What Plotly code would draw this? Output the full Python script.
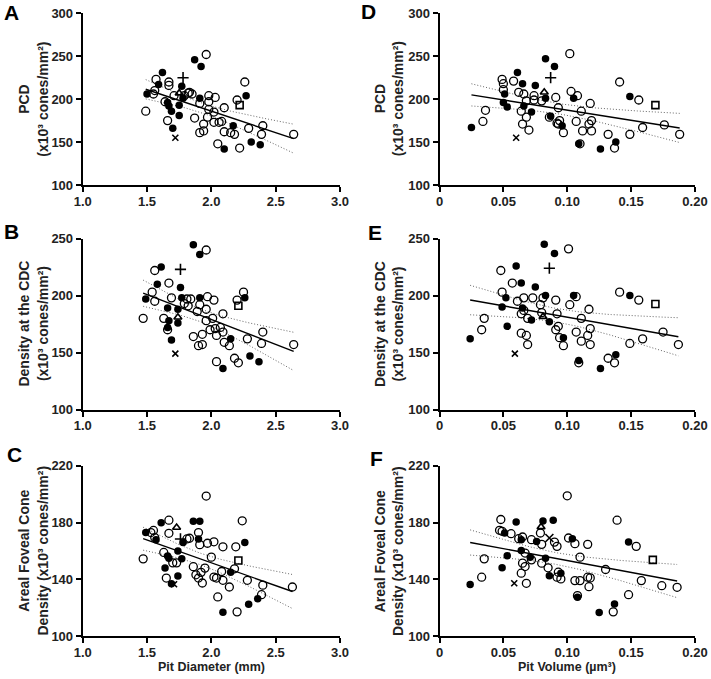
import numpy as np
import plotly.graph_objects as go

# ---------------- data ----------------
# Panel A: Pit diameter (mm) vs PCD
A_filled_x = [1.87, 1.92, 1.62, 1.59, 1.77, 1.50, 1.78, 1.91, 1.66, 1.67, 1.69, 1.75, 1.75, 2.27, 2.17, 1.70, 2.10, 2.31, 2.38]
A_filled_y = [246, 238, 231, 217, 215, 206, 201, 201, 196, 192, 186, 193, 181, 204, 169, 166, 142, 150, 147]
A_open_x = [1.96, 1.57, 1.67, 1.67, 2.26, 1.83, 1.56, 1.55, 1.71, 1.85, 1.98, 2.03, 1.98, 2.20, 1.91, 1.49, 2.10, 1.98, 1.87, 1.97,
            2.02, 1.66, 1.94, 2.02, 2.06, 2.08, 1.91, 1.94, 2.10, 2.15, 2.18, 2.29, 2.40, 2.39, 2.05, 2.22, 2.64, 1.64, 1.79, 1.82]
A_open_y = [252, 223, 220, 216, 220, 208, 210, 206, 204, 206, 204, 202, 197, 199, 195, 186, 190, 188, 178, 179,
            185, 175, 171, 173, 173, 174, 161, 163, 162, 161, 159, 166, 169, 159, 148, 143, 159, 197, 204, 207]
A_special = {"x": (1.72, 155), "plus": (1.78, 225), "tri": (1.75, 207), "sq": (2.22, 193)}

# Panel B: Pit diameter vs density at the CDC
B_filled_x = [1.86, 1.91, 1.61, 1.58, 1.76, 1.49, 1.77, 1.91, 2.26, 1.66, 1.74, 1.67, 1.74, 1.66, 1.69, 2.15, 2.09, 2.30, 2.37]
B_filled_y = [244.5, 236, 225, 210, 207, 197, 198, 198, 198, 189, 188, 178, 176, 172, 161, 162, 136, 147, 142]
B_open_x = [1.96, 1.56, 1.67, 1.54, 1.56, 1.69, 1.81, 1.84, 1.97, 2.02, 2.25, 2.20, 1.82, 1.89, 1.96, 2.01, 2.09, 1.47, 1.63, 1.96,
            2.03, 1.99, 2.07, 2.09, 2.04, 1.86, 1.93, 2.10, 2.14, 1.90, 1.93, 2.28, 2.40, 2.39, 2.64, 1.66, 2.04, 2.18, 2.21, 1.91, 1.79]
B_open_y = [240, 222, 211, 203, 195, 198, 197, 197, 199, 196, 203, 196, 191, 186, 188, 180, 184, 180, 180, 178,
            171, 170, 172, 168, 165, 164, 166, 159, 156, 156, 157, 162, 168, 158, 157, 170, 142, 145, 141, 192, 193]
B_special = {"x": (1.72, 149), "plus": (1.76, 223), "tri": (1.74, 181), "sq": (2.21, 191)}

# Panel C: Pit diameter vs areal foveal cone density
C_filled_x = [1.61, 1.86, 1.91, 1.49, 1.57, 1.90, 1.78, 2.26, 1.74, 1.66, 1.67, 1.77, 1.64, 1.74, 1.69, 2.15, 2.09, 2.29, 2.36]
C_filled_y = [180, 181, 181, 173, 168, 168.5, 166, 166, 160, 156.5, 155, 154.5, 148, 142.5, 137, 145, 117, 122.5, 126.5]
C_open_x = [1.96, 1.67, 2.24, 1.55, 1.53, 1.67, 1.90, 1.81, 1.83, 1.97, 2.02, 2.19, 2.09, 2.00, 1.47, 1.63, 1.70, 1.73, 1.86, 1.92,
            1.95, 2.08, 2.18, 1.88, 1.90, 2.02, 2.04, 2.09, 1.93, 2.14, 1.65, 2.28, 2.40, 2.39, 2.63, 2.05, 2.20, 1.91, 1.56]
C_open_y = [198.7, 181.7, 181.3, 174.5, 173, 172.5, 173, 168.5, 169, 165.5, 166.5, 163, 163, 155.7, 154.5, 159, 151.7, 151.7, 149, 145,
            148, 145.6, 147.5, 143.3, 141, 141.7, 141, 139.4, 137.5, 134.7, 141, 139.4, 136, 129.3, 134.7, 127.7, 117.2, 164.5, 169.5]
C_special = {"x": (1.71, 136.6), "plus": (1.76, 168.5), "tri": (1.73, 176.6), "sq": (2.21, 153.3)}

# Panel D: Pit volume (um^3) vs PCD
D_filled_x = [0.025, 0.083, 0.090, 0.061, 0.065, 0.075, 0.051, 0.050, 0.053, 0.066, 0.072, 0.083, 0.105, 0.149, 0.087, 0.096, 0.109, 0.126, 0.138]
D_filled_y = [167, 247, 238, 231, 218, 216, 206, 196, 191, 192, 185, 201, 201, 203, 180, 169, 148, 142, 150]
D_open_x = [0.102, 0.049, 0.050, 0.050, 0.058, 0.141, 0.062, 0.066, 0.074, 0.103, 0.108, 0.091, 0.156, 0.068, 0.074, 0.080, 0.093, 0.118, 0.111, 0.064,
            0.036, 0.068, 0.034, 0.065, 0.070, 0.086, 0.092, 0.094, 0.093, 0.107, 0.117, 0.119, 0.097, 0.112, 0.119, 0.132, 0.149, 0.159, 0.176, 0.188,
            0.110, 0.137]
D_open_y = [253, 223, 218, 211, 221, 220, 208, 206, 204, 209, 204, 202, 199, 198, 199, 198, 190, 195, 186, 186,
            187, 179, 174, 171, 164, 179, 172, 175, 171, 174, 171, 175, 161, 163, 163, 159, 159, 167, 170, 159,
            148, 143]
D_special = {"x": (0.060, 155), "plus": (0.087, 225), "tri": (0.082, 208), "sq": (0.169, 193)}

# Panel E: Pit volume vs density at the CDC
E_filled_x = [0.024, 0.082, 0.090, 0.060, 0.064, 0.075, 0.052, 0.049, 0.065, 0.053, 0.072, 0.083, 0.105, 0.149, 0.086, 0.097, 0.109, 0.126, 0.138]
E_filled_y = [162, 245, 237, 226, 211, 207.5, 198, 190, 189, 173, 178.5, 200, 200, 200, 177, 163, 143, 136, 148]
E_open_x = [0.101, 0.048, 0.057, 0.049, 0.141, 0.156, 0.107, 0.066, 0.073, 0.081, 0.091, 0.061, 0.079, 0.117, 0.102, 0.064, 0.066, 0.080, 0.092, 0.111,
            0.035, 0.069, 0.033, 0.093, 0.091, 0.118, 0.107, 0.116, 0.064, 0.068, 0.094, 0.069, 0.097, 0.111, 0.118, 0.149, 0.159, 0.175, 0.187, 0.132,
            0.137, 0.109]
E_open_y = [241, 222, 211, 203, 203, 196, 199, 198, 198, 198, 196, 195, 192, 188, 192, 184, 187, 185, 184, 180,
            180, 180, 170, 173, 170, 171, 168, 165, 167, 165, 163, 157, 156, 160, 157, 158, 162, 168, 157, 145,
            141, 141]
E_special = {"x": (0.059, 149), "plus": (0.086, 224), "tri": (0.081, 181.5), "sq": (0.169, 192.6)}

# Panel F: Pit volume vs areal foveal cone density
F_filled_x = [0.024, 0.060, 0.081, 0.089, 0.051, 0.064, 0.076, 0.104, 0.148, 0.064, 0.053, 0.071, 0.083, 0.049, 0.086, 0.095, 0.108, 0.125, 0.137]
F_filled_y = [136.4, 180.5, 181.2, 181.7, 172.7, 168, 166.8, 168.7, 166.3, 160.4, 156.7, 155.7, 155, 148.2, 142.7, 144.4, 127.4, 116.8, 122.7]
F_open_x = [0.100, 0.048, 0.139, 0.047, 0.049, 0.056, 0.079, 0.062, 0.065, 0.072, 0.090, 0.092, 0.101, 0.106, 0.116, 0.154, 0.080, 0.110, 0.035, 0.067,
            0.065, 0.067, 0.072, 0.080, 0.085, 0.130, 0.064, 0.093, 0.092, 0.095, 0.106, 0.110, 0.116, 0.118, 0.117, 0.158, 0.174, 0.186, 0.033, 0.068,
            0.148, 0.108, 0.136]
F_open_y = [198.9, 182.2, 181.7, 174.6, 173.9, 172.2, 172.7, 168.7, 169.9, 168, 166.3, 163.3, 169.2, 165.2, 164.7, 163.3, 164.7, 155.7, 154.5, 158.6,
            151.5, 149.1, 153.8, 151.5, 148.2, 147, 144.4, 145.1, 141.6, 140.4, 139.2, 139.2, 141.6, 141.1, 134.9, 139.2, 135.6, 134.5, 141.6, 137.3,
            129.3, 128.6, 117.2]
F_special = {"x": (0.0585, 137.3), "plus": (0.086, 169.2), "tri": (0.0795, 177), "sq": (0.167, 153.8)}

# axis ticks / labels
diam_ticks = [1.0, 1.5, 2.0, 2.5, 3.0]
diam_ticktext = ["1.0", "1.5", "2.0", "2.5", "3.0"]
vol_ticks = [0, 0.05, 0.10, 0.15, 0.20]
vol_ticktext = ["0", "0.05", "0.10", "0.15", "0.20"]
pcd_ticks = [100, 150, 200, 250, 300]
cdc_ticks = [100, 150, 200, 250]
areal_ticks = [100, 140, 180, 220]

letters = ["A", "B", "C", "D", "E", "F"]
ytitles = ["PCD<br>(x10³ cones/mm²)", "Density at the CDC<br>(x10³ cones/mm²)",
           "Areal Foveal Cone<br>Density (x10³ cones/mm²)"]
xtitles = ["Pit Diameter (mm)", "Pit Volume (µm³)"]
T_CRIT = 1.99  # two-sided 95% t value, ~80 d.o.f.

# ---------------- layout geometry (pixels) ----------------
W, H = 711, 679
col_px = [(82.7, 340.0), (439.5, 695.0)]
row_px = [(13.3, 185.0), (238.6, 409.5), (465.8, 636.3)]
ytitle_x = [33.5, 389.0]
letter_pos = [[(12, 12), (12, 231), (14, 455)], [(368, 11), (375, 232), (376, 458)]]

panels = [
    (0, 0, A_filled_x, A_filled_y, A_open_x, A_open_y, A_special, [1, 3], [100, 300], pcd_ticks),
    (0, 1, B_filled_x, B_filled_y, B_open_x, B_open_y, B_special, [1, 3], [100, 250], cdc_ticks),
    (0, 2, C_filled_x, C_filled_y, C_open_x, C_open_y, C_special, [1, 3], [100, 220], areal_ticks),
    (1, 0, D_filled_x, D_filled_y, D_open_x, D_open_y, D_special, [0, 0.2], [100, 300], pcd_ticks),
    (1, 1, E_filled_x, E_filled_y, E_open_x, E_open_y, E_special, [0, 0.2], [100, 250], cdc_ticks),
    (1, 2, F_filled_x, F_filled_y, F_open_x, F_open_y, F_special, [0, 0.2], [100, 220], areal_ticks),
]

FONT = "Liberation Sans, Arial, sans-serif"
fig = go.Figure()
annotations = []
layout_axes = {}

for i, (col, row, fx, fy, ox, oy, sp, xr, yr, yt) in enumerate(panels):
    n = i + 1
    xa = "x" if n == 1 else f"x{n}"
    ya = "y" if n == 1 else f"y{n}"
    # regression + 95% CI computed from all points
    allx = np.array(fx + ox + [v[0] for v in sp.values()], dtype=float)
    ally = np.array(fy + oy + [v[1] for v in sp.values()], dtype=float)
    slope, icpt = np.polyfit(allx, ally, 1)
    resid = ally - (slope * allx + icpt)
    nn = len(allx)
    s = np.sqrt(np.sum(resid ** 2) / (nn - 2))
    xbar = allx.mean()
    sxx = np.sum((allx - xbar) ** 2)
    xs = np.linspace(allx.min(), allx.max(), 60)
    yh = slope * xs + icpt
    half = T_CRIT * s * np.sqrt(1.0 / nn + (xs - xbar) ** 2 / sxx)
    for band in (yh - half, yh + half):
        fig.add_trace(go.Scatter(x=xs, y=band, mode="lines", xaxis=xa, yaxis=ya,
                                 line=dict(color="#666666", width=1, dash="1px,2px"),
                                 showlegend=False, hoverinfo="skip"))
    fig.add_trace(go.Scatter(x=[xs[0], xs[-1]], y=[yh[0], yh[-1]], mode="lines", xaxis=xa, yaxis=ya,
                             line=dict(color="black", width=1.4), showlegend=False))
    fig.add_trace(go.Scatter(x=ox, y=oy, mode="markers", xaxis=xa, yaxis=ya, showlegend=False,
                             marker=dict(symbol="circle-open", size=8, color="black", line=dict(width=1.3))))
    fig.add_trace(go.Scatter(x=fx, y=fy, mode="markers", xaxis=xa, yaxis=ya, showlegend=False,
                             marker=dict(symbol="circle", size=7.5, color="black")))
    plus_sym = "x-thin-open" if letters[row + 3 * col] == "F" else "cross-thin-open"
    spec_syms = {"x": ("x-thin-open", 6), "plus": (plus_sym, 8), "tri": ("triangle-up-open", 7), "sq": ("square-open", 7)}
    for key, (sym, sz) in spec_syms.items():
        fig.add_trace(go.Scatter(x=[sp[key][0]], y=[sp[key][1]], mode="markers", xaxis=xa, yaxis=ya,
                                 showlegend=False,
                                 marker=dict(symbol=sym, size=sz, color="black", line=dict(width=1.6, color="black"))))

    x0, x1 = col_px[col]
    y0, y1 = row_px[row]
    if col == 0:
        tv, tt = diam_ticks, diam_ticktext
    else:
        tv, tt = vol_ticks, vol_ticktext
    axis_common = dict(showline=True, linewidth=2, linecolor="black", ticks="outside", ticklen=5,
                       tickwidth=2, tickcolor="black", showgrid=False, zeroline=False, automargin=False,
                       tickfont=dict(family=FONT, size=13, color="#222222", weight="bold"))
    layout_axes["xaxis" if n == 1 else f"xaxis{n}"] = dict(
        domain=[x0 / W, x1 / W], range=xr, tickvals=tv, ticktext=tt, ticklabelstandoff=-2,
        anchor=ya, **axis_common)
    layout_axes["yaxis" if n == 1 else f"yaxis{n}"] = dict(
        domain=[1 - y1 / H, 1 - y0 / H], range=yr, tickvals=yt, ticktext=[str(v) for v in yt],
        anchor=xa, **axis_common)

    annotations.append(dict(text=f"<b>{ytitles[row]}</b>", textangle=-90, xref="paper", yref="paper",
                            x=ytitle_x[col] / W, y=1 - (y0 + y1) / 2 / H, xanchor="center", yanchor="middle",
                            showarrow=False, font=dict(family=FONT, size=14, color="#222222")))
    lx, ly = letter_pos[col][row]
    annotations.append(dict(text=f"<b>{letters[row + 3 * col]}</b>", xref="paper", yref="paper",
                            x=lx / W, y=1 - ly / H, xanchor="center", yanchor="middle",
                            showarrow=False, font=dict(family=FONT, size=21, color="black")))
    if row == 2:
        annotations.append(dict(text=f"<b>{xtitles[col]}</b>", xref="paper", yref="paper",
                                x=(x0 + x1) / 2 / W, y=1 - 667 / H, xanchor="center", yanchor="middle",
                                showarrow=False, font=dict(family=FONT, size=12.5, color="#222222")))

fig.update_layout(width=W, height=H, margin=dict(l=0, r=0, t=0, b=0),
                  paper_bgcolor="white", plot_bgcolor="white", template="none",
                  annotations=annotations, **layout_axes)
fig.write_html("out.html")
